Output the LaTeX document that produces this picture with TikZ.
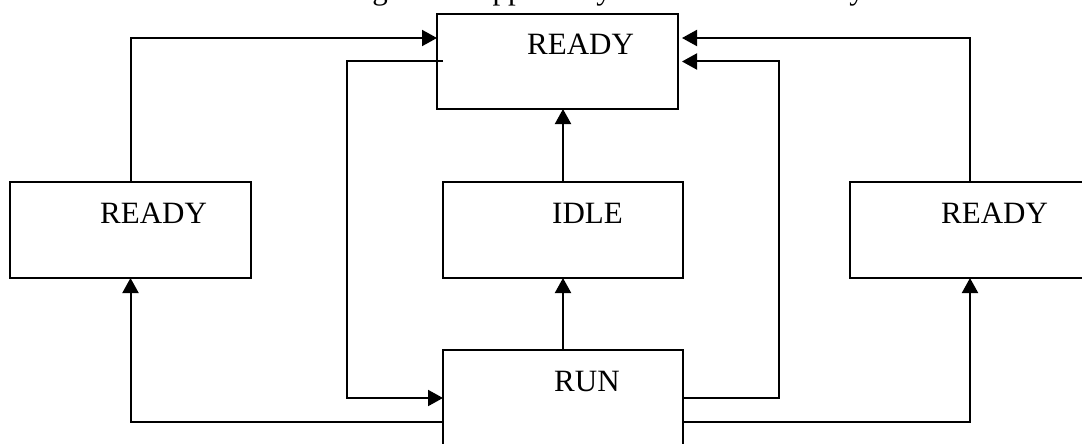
\documentclass[tikz,border=0pt]{standalone}
\usepackage{fontspec}
\setmainfont{Liberation Serif}
\usetikzlibrary{arrows.meta}
\tikzset{
  box/.style={draw, line width=2pt, rectangle, inner sep=0pt, outer sep=0pt, minimum width=240pt, minimum height=96pt},
  lbl/.style={anchor=base west, inner sep=0pt, font=\fontsize{31}{36}\selectfont},
  ttl/.style={anchor=base, inner sep=0pt, font=\fontsize{31}{36}\selectfont},
  arr/.style={line width=2pt, -{Triangle[length=15pt,width=16pt]}},
  ln/.style={line width=2pt}
}
\begin{document}
\begin{tikzpicture}[x=1pt,y=-1pt]
\clip (0,0) rectangle (1082,444);
\fill[white] (0,0) rectangle (1082,444);
% title fragments cut off at top
\node[ttl] (t1) at (380,0) {g};
\node[ttl] (t2) at (508,0) {pp};
\node[ttl] (t3) at (604,0) {y};
\node[ttl] (t4) at (857,0) {y};
% boxes
\node[box, minimum width=241pt, minimum height=95pt] (T) at (557.5,61.5) {};
\node[box, minimum width=241pt] (L) at (130.5,230) {};
\node[box] (I) at (563,230) {};
\node[box] (Rt) at (970,230) {};
\node[box, minimum height=110pt] (R) at (563,405) {};
% labels
\node[lbl] (tT) at (527,55) {READY};
\node[lbl] (tL) at (100,223) {READY};
\node[lbl] (tI) at (552,223) {IDLE};
\node[lbl] (tRt) at (941,223) {READY};
\node[lbl] (tR) at (554,391) {RUN};
% connectors
\draw[arr] (L.north) |- ([yshift=23.5pt]T.west);
\draw[arr] ([xshift=6pt]T.west) -- ++(-96,0) |- ([yshift=7pt]R.west);
\draw[arr, shorten >=4pt] (Rt.north) |- ([yshift=23.5pt]T.east);
\draw[arr, shorten >=4pt] ([yshift=7pt]R.east) -- ++(96,0) |- (T.east);
\draw[arr] (I.north) -- (I.north |- T.south);
\draw[arr] (R.north) -- (I.south);
\draw[arr] ([yshift=-17pt]R.west) -| (L.south);
\draw[arr] ([yshift=-17pt]R.east) -| (Rt.south);
\end{tikzpicture}
\end{document}
